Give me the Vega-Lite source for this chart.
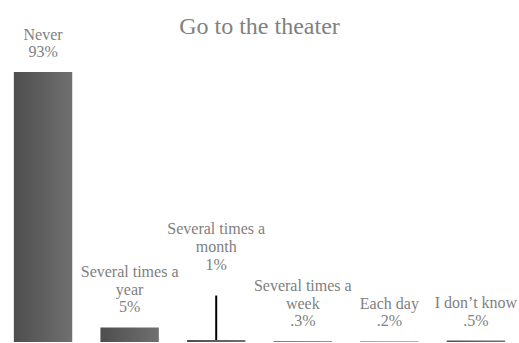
{
  "$schema": "https://vega.github.io/schema/vega-lite/v6.json",
  "width": 519,
  "height": 342,
  "autosize": "none",
  "padding": 0,
  "background": "white",
  "title": {
    "text": "Go to the theater",
    "font": "Liberation Serif",
    "fontSize": 24,
    "fontWeight": "normal",
    "color": "#808080",
    "anchor": "middle",
    "baseline": "alphabetic",
    "offset": -58
  },
  "config": {"view": {"stroke": null}},
  "data": {
    "values": [
      {"category": "Never", "value": 93, "top": "", "mid": "Never", "pct": "93%"},
      {"category": "Several times a year", "value": 5, "top": "Several times a", "mid": "year", "pct": "5%"},
      {"category": "Several times a month", "value": 0.7, "top": "Several times a", "mid": "month", "pct": "1%", "leader": 16},
      {"category": "Several times a week", "value": 0.3, "top": "Several times a", "mid": "week", "pct": ".3%"},
      {"category": "Each day", "value": 0.2, "top": "", "mid": "Each day", "pct": ".2%"},
      {"category": "I don't know", "value": 0.5, "top": "", "mid": "I don’t  know", "pct": ".5%"}
    ]
  },
  "encoding": {
    "x": {
      "field": "category",
      "type": "nominal",
      "sort": null,
      "axis": null,
      "scale": {"paddingInner": 0.3256, "paddingOuter": 0.16}
    }
  },
  "layer": [
    {
      "mark": {
        "type": "bar",
        "color": {
          "gradient": "linear",
          "x1": 0, "y1": 0, "x2": 1, "y2": 0,
          "stops": [
            {"offset": 0, "color": "#4e4e4e"},
            {"offset": 1, "color": "#707070"}
          ]
        }
      },
      "encoding": {
        "y": {"field": "value", "type": "quantitative", "axis": null, "scale": {"domain": [0, 117.8], "nice": false}}
      }
    },
    {
      "transform": [{"filter": "datum.leader != null"}],
      "mark": {"type": "rule", "color": "black", "strokeWidth": 2},
      "encoding": {
        "y": {"field": "leader", "type": "quantitative"},
        "y2": {"field": "value"}
      }
    },
    {
      "transform": [{"filter": "datum.leader == null"}],
      "mark": {"type": "text", "font": "Liberation Serif", "fontSize": 16, "color": "#808080", "baseline": "middle", "dy": -20},
      "encoding": {"y": {"field": "value", "type": "quantitative"}, "text": {"field": "pct"}}
    },
    {
      "transform": [{"filter": "datum.leader == null"}],
      "mark": {"type": "text", "font": "Liberation Serif", "fontSize": 16, "color": "#808080", "baseline": "middle", "dy": -37.5},
      "encoding": {"y": {"field": "value", "type": "quantitative"}, "text": {"field": "mid"}}
    },
    {
      "transform": [{"filter": "datum.leader == null"}],
      "mark": {"type": "text", "font": "Liberation Serif", "fontSize": 16, "color": "#808080", "baseline": "middle", "dy": -55},
      "encoding": {"y": {"field": "value", "type": "quantitative"}, "text": {"field": "top"}}
    },
    {
      "transform": [{"filter": "datum.leader != null"}],
      "mark": {"type": "text", "font": "Liberation Serif", "fontSize": 16, "color": "#808080", "baseline": "middle", "dy": -31},
      "encoding": {"y": {"field": "leader", "type": "quantitative"}, "text": {"field": "pct"}}
    },
    {
      "transform": [{"filter": "datum.leader != null"}],
      "mark": {"type": "text", "font": "Liberation Serif", "fontSize": 16, "color": "#808080", "baseline": "middle", "dy": -49},
      "encoding": {"y": {"field": "leader", "type": "quantitative"}, "text": {"field": "mid"}}
    },
    {
      "transform": [{"filter": "datum.leader != null"}],
      "mark": {"type": "text", "font": "Liberation Serif", "fontSize": 16, "color": "#808080", "baseline": "middle", "dy": -67},
      "encoding": {"y": {"field": "leader", "type": "quantitative"}, "text": {"field": "top"}}
    }
  ]
}
